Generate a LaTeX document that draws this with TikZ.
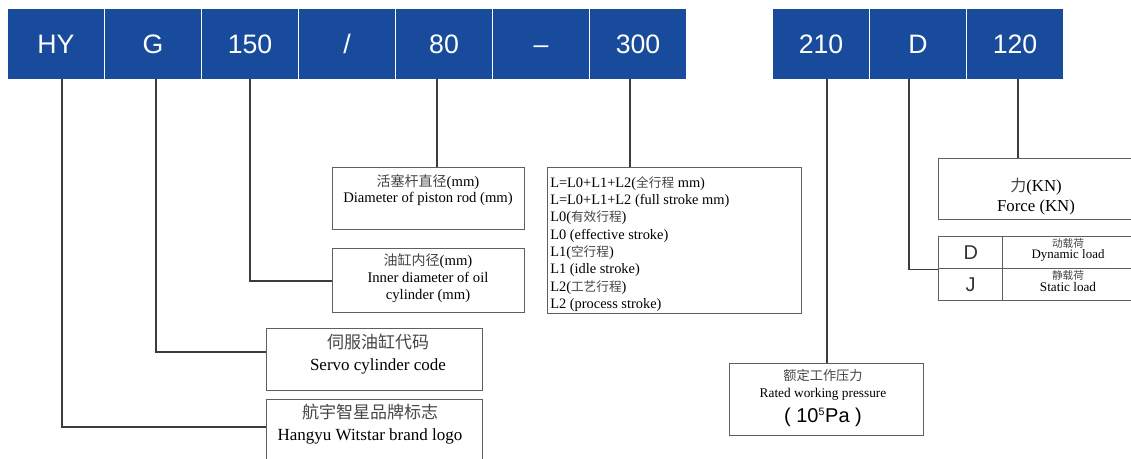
\documentclass[tikz,border=0pt]{standalone}
\usepackage{fontspec}
\setmainfont{Liberation Serif}
\setsansfont{Liberation Sans}
\newfontfamily\zhfont{Noto Sans CJK SC}
\definecolor{codeblue}{RGB}{24,75,155}
\definecolor{linegray}{RGB}{60,60,60}
\definecolor{boxgray}{RGB}{95,95,95}
\definecolor{zhgray}{RGB}{70,70,70}
% Chinese text at a given size
\newcommand{\zh}[2]{{\zhfont\fontsize{#1}{#1}\selectfont\color{zhgray}#2}}

\begin{document}
\begin{tikzpicture}[x=0.75pt, y=-0.75pt,
    code/.style={rectangle, fill=codeblue, text=white, inner sep=0pt,
        minimum width=71.6pt, minimum height=52.5pt, text height=14.3pt, text depth=0pt,
        font=\sffamily\fontsize{20}{20}\selectfont},
    infobox/.style={rectangle, draw=boxgray, line width=1.1pt, anchor=north west, inner sep=0pt},
    textlines/.style={inner sep=0pt, align=center},
    link/.style={draw=linegray, line width=1.3pt}]
    \useasboundingbox (0,0) rectangle (1131,459);

    % Define the blue code boxes
    \node[code] (hy) at (56,44) {HY};
    \node[code] (g) at (153,44) {G};
    \node[code] (p150) at (250,44) {150};
    \node[code] (slash) at (347,44) {/};
    \node[code] (p80) at (444,44) {80};
    \node[code] (dash) at (541,44) {\textendash};
    \node[code] (p300) at (638,44) {300};

    \node[code] (p210) at (821,44) {210};
    \node[code] (pd) at (918,44) {D};
    \node[code] (p120) at (1015,44) {120};

    % Define the explanation boxes
    \node[infobox, minimum width=144pt, minimum height=46.5pt] (dia) at (332,167) {};
    \node[infobox, minimum width=144pt, minimum height=48pt] (inner) at (332,248) {};
    \node[infobox, minimum width=190.5pt, minimum height=109.5pt] (stroke) at (547,167) {};
    \node[infobox, minimum width=162pt, minimum height=46.5pt] (servo) at (266,328) {};
    \node[infobox, minimum width=162pt, minimum height=46.5pt] (brand) at (266,399) {};
    \node[infobox, minimum width=145.5pt, minimum height=54pt] (press) at (729,363) {};
    \node[infobox, minimum width=147pt, minimum height=45.75pt] (force) at (938,158) {};
    \node[infobox, minimum width=48pt, minimum height=24pt,
        font=\sffamily\fontsize{15}{15}\selectfont, text=black!80] (dcell) at (938,236) {D};
    \node[infobox, minimum width=99pt, minimum height=24pt] (dload) at (1002,236) {};
    \node[infobox, minimum width=48pt, minimum height=24pt,
        font=\sffamily\fontsize{15}{15}\selectfont, text=black!80] (jcell) at (938,268) {J};
    \node[infobox, minimum width=99pt, minimum height=24pt] (jload) at (1002,268) {};

    % Texts inside the boxes
    \node[textlines, font=\fontsize{11}{11.5}\selectfont] (diat) at (428,190)
        {\zh{10.5}{活塞杆直径}(mm)\\Diameter of piston rod (mm)};
    \node[textlines, font=\fontsize{11}{13}\selectfont] (innert) at (428,278)
        {\zh{10.5}{油缸内径}(mm)\\Inner diameter of oil\\cylinder (mm)};
    \node[textlines, align=left, anchor=west, font=\fontsize{10.8}{13}\selectfont] (strokt) at (550,244)
        {L=L0+L1+L2(\zh{9.5}{全行程} mm)\\
         L=L0+L1+L2 (full stroke mm)\\
         L0(\zh{9.5}{有效行程})\\
         L0 (effective stroke)\\
         L1(\zh{9.5}{空行程})\\
         L1 (idle stroke)\\
         L2(\zh{9.5}{工艺行程})\\
         L2 (process stroke)};
    \node[textlines, font=\fontsize{12.75}{16.5}\selectfont] (servot) at (378,354)
        {\zh{12.75}{伺服油缸代码}\\Servo cylinder code};
    \node[textlines, font=\fontsize{12.75}{16.5}\selectfont] (brandt) at (370,424)
        {\zh{12.75}{航宇智星品牌标志}\\Hangyu Witstar brand logo};
    \node[textlines, font=\fontsize{10}{12.75}\selectfont] (presst) at (823,398)
        {\zh{9.9}{额定工作压力}\\Rated working pressure\\[5pt]
         {\sffamily\fontsize{15}{15}\selectfont ( 10\textsuperscript{\fontsize{8}{8}\selectfont 5}Pa )}};
    \node[textlines, font=\fontsize{12.6}{15}\selectfont] (forcet) at (1036,197)
        {\zh{12}{力}(KN)\\Force (KN)};
    \node[textlines, font=\fontsize{9.7}{8.5}\selectfont] (dloadt) at (1068,250)
        {\zh{8}{动载荷}\\Dynamic load};
    \node[textlines, font=\fontsize{9.9}{9.5}\selectfont] (jloadt) at (1068,281)
        {\zh{8}{静载荷}\\Static load};

    % Draw connectors from the codes to their boxes
    \draw[link] ([xshift=4.5pt]hy.south) |- ([yshift=3pt]brand.west);
    \draw[link] ([xshift=2.25pt]g.south) |- ([yshift=6pt]servo.west);
    \draw[link] (p150.south) |- (inner.west);
    \draw[link] ([xshift=-5.25pt]p80.south) coordinate (t80) -- (t80 |- dia.north);
    \draw[link] ([xshift=-6pt]p300.south) coordinate (t300) -- (t300 |- stroke.north);
    \draw[link] ([xshift=4.5pt]p210.south) coordinate (t210) -- (t210 |- press.north);
    \draw[link] ([xshift=-6.75pt]pd.south) |- (dcell.south west);
    \draw[link] ([xshift=2.25pt]p120.south) coordinate (t120) -- (t120 |- force.north);
\end{tikzpicture}
\end{document}
